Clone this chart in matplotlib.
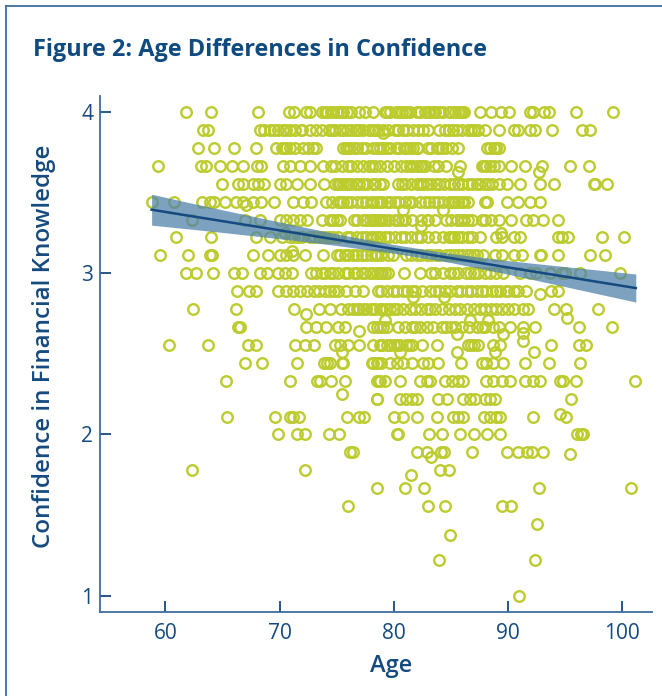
import matplotlib
matplotlib.use('Agg')
import matplotlib.pyplot as plt

row_400 = [61.8, 64.0, 68.1, 70.8, 71.3, 72.3, 72.7, 73.7, 74.2, 74.7, 75.1, 75.4, 75.9, 76.3, 77.0, 77.5, 78.2,
           79.2, 79.7, 80.5, 81.0, 81.4, 82.3, 82.7, 83.2, 83.6, 84.0, 84.8, 85.4, 85.8, 86.2, 87.6, 88.5, 89.4,
           90.1, 91.9, 92.2, 93.2, 93.6, 96.0, 99.2]
row_389 = [63.3, 63.7, 68.3, 68.6, 69.2, 69.9, 70.3, 70.9, 71.4, 71.9, 72.7, 73.7, 74.3, 74.9, 75.3, 75.9, 76.3,
           76.8, 77.3, 78.1, 78.6, 79.1, 80.1, 80.8, 81.7, 82.15, 83.0, 84.5, 85.5, 86.5, 87.4, 88.0, 89.2, 90.5,
           90.9, 91.9, 92.4, 93.9, 96.5, 97.2]
row_378 = [62.9, 64.3, 66.0, 67.9, 69.7, 70.2, 70.6, 71.4, 72.1, 72.5, 73.2, 75.6, 76.0, 76.5, 77.2, 78.2, 78.8,
           79.1, 79.7, 80.5, 81.1, 81.7, 82.15, 83.3, 83.8, 84.2, 85.1, 85.65, 88.4, 89.2]
row_367 = [59.4, 63.1, 63.6, 64.8, 65.8, 66.8, 68.0, 68.4, 70.3, 70.9, 71.8, 72.7, 73.8, 74.9, 76.3, 76.8, 77.3,
           78.4, 78.8, 79.4, 80.0, 81.1, 81.7, 82.3, 82.7, 83.5, 83.9, 84.6, 85.8, 87.7, 88.1, 89.2, 90.3, 91.5,
           93.0, 95.4, 97.1]
row_356 = [65.0, 66.4, 66.8, 67.7, 68.1, 68.6, 70.0, 70.6, 71.5, 72.7, 73.9, 75.1, 75.6, 76.0, 77.3, 78.2, 78.8,
           78.4, 79.1, 80.7, 82.0, 82.6, 83.3, 84.0, 84.9, 85.65, 86.5, 87.3, 88.0, 88.6, 89.2, 89.9, 91.05, 92.8,
           94.0, 97.5, 97.6, 98.7]
row_344 = [58.8, 60.8, 63.2, 63.9, 64.3, 65.2, 66.2, 66.8, 67.7, 68.4, 69.5, 71.2, 72.1, 72.8, 74.1, 75.1, 75.6,
           76.8, 77.6, 78.5, 78.2, 78.8, 79.7, 80.1, 81.3, 82.3, 83.5, 84.3, 85.1, 85.65, 86.5, 88.0, 89.9, 90.9,
           91.9, 92.8]
row_333 = [62.3, 67.0, 68.3, 70.0, 71.2, 71.8, 72.4, 73.7, 74.4, 75.0, 76.5, 77.6, 78.2, 78.8, 78.4, 79.2, 80.1,
           81.0, 81.6, 82.9, 83.6, 84.6, 85.5, 86.2, 87.7, 89.2, 90.3, 91.6, 92.2, 93.1, 94.4]
row_322 = [60.9, 64.0, 67.9, 69.2, 70.2, 70.9, 71.6, 72.7, 73.8, 74.4, 75.1, 75.9, 76.8, 78.2, 78.8, 78.5, 79.2,
           80.1, 81.0, 82.4, 83.6, 84.8, 85.65, 86.5, 87.55, 89.0, 89.45, 90.5, 91.05, 94.4, 94.7, 95.3, 98.2, 100.2]
row_311 = [59.5, 62.0, 63.9, 64.05, 67.7, 69.0, 70.0, 70.6, 71.2, 72.2, 73.8, 75.0, 75.7, 76.8, 77.6, 78.5, 78.4,
           79.5, 81.1, 82.0, 82.9, 84.6, 85.65, 86.7, 87.8, 88.9, 89.45, 90.5, 91.2, 92.8, 92.9, 94.35, 97.2, 98.5]
row_300 = [61.8, 62.65, 64.2, 66.0, 66.7, 68.3, 68.9, 69.9, 70.5, 71.1, 72.8, 73.7, 74.4, 75.1, 76.5, 77.5, 78.2,
           78.8, 78.5, 79.2, 80.9, 82.3, 83.3, 83.6, 84.9, 85.65, 86.7, 88.0, 89.0, 89.6, 91.05, 91.9, 92.5, 93.7,
           94.7, 95.0, 96.3, 99.8]
row_289 = [66.3, 67.3, 67.9, 69.9, 70.6, 71.2, 71.8, 73.0, 73.5, 74.4, 75.1, 76.6, 77.3, 78.9, 79.4, 80.25, 80.8,
           81.6, 83.2, 84.5, 85.5, 86.4, 87.7, 89.3, 90.5, 91.6, 93.8, 94.4]
row_278 = [62.45, 66.2, 71.3, 73.5, 74.4, 75.4, 76.0, 77.0, 77.6, 78.2, 78.8, 79.7, 80.8, 81.9, 82.9, 83.6, 84.8,
           85.8, 87.0, 88.0, 89.0, 90.0, 91.35, 91.8, 94.0, 95.1, 97.85]
row_267 = [66.4, 66.5, 72.3, 73.2, 74.1, 75.1, 75.7, 78.2, 78.8, 79.1, 80.4, 81.6, 82.3, 82.9, 84.2, 85.4, 85.95,
           87.3, 88.0, 89.2, 90.2, 91.35, 92.4, 96.2, 99.1]
row_256 = [60.3, 63.7, 67.2, 67.9, 71.4, 72.2, 73.0, 74.9, 75.3, 76.0, 77.0, 78.2, 78.8, 78.9, 79.4, 80.0, 80.55,
           81.1, 81.6, 82.45, 83.75, 86.5, 87.0, 87.4, 88.7, 89.3, 93.8, 96.25, 96.8]
row_244 = [67.0, 68.5, 71.5, 73.9, 74.2, 74.4, 75.5, 75.6, 78.2, 78.65, 78.07, 78.5, 78.9, 79.7, 80.25, 80.8, 81.6,
           82.6, 83.0, 83.9, 85.85, 87.7, 88.1, 88.7, 89.6, 91.5, 93.6, 96.35]
row_233 = [65.3, 70.9, 73.25, 73.55, 74.5, 75.7, 78.5, 78.8, 78.65, 79.2, 80.55, 82.3, 82.9, 83.2, 84.5, 85.1,
           85.65, 86.1, 88.1, 88.7, 89.45, 90.2, 91.5, 92.2, 92.8, 94.55, 94.85, 96.0, 101.15]
row_222 = [78.5, 78.56, 80.55, 81.1, 81.6, 82.0, 83.9, 84.7, 86.1, 86.7, 87.1, 88.0, 88.4, 88.9, 95.55]
row_211 = [65.4, 69.6, 70.9, 71.2, 71.7, 75.9, 77.0, 77.4, 80.0, 80.8, 82.05, 83.75, 85.2, 85.65, 86.1, 87.9, 88.4,
           89.0, 89.3, 92.2, 95.1]
row_200 = [69.9, 71.55, 72.2, 74.3, 75.2, 80.25, 80.4, 83.05, 84.2, 85.8, 87.0, 88.2, 89.3, 96.05, 96.4, 96.6]
row_189 = [76.2, 76.4, 82.0, 82.9, 84.1, 84.4, 86.9, 89.9, 90.9, 91.65, 92.1, 93.1]
row_178 = [62.3, 72.2, 84.05, 84.8]
row_167 = [78.5, 81.0, 82.65, 92.7, 100.75]
row_156 = [76.0, 83.0, 84.45, 89.5, 90.3]
row_144 = [92.55]
row_122 = [84.0, 92.4]
row_100 = [91.0]

levels = [4.0, 3.889, 3.778, 3.667, 3.556, 3.444, 3.333, 3.222, 3.111, 3.0, 2.889, 2.778, 2.667, 2.556, 2.444,
          2.333, 2.222, 2.111, 2.0, 1.889, 1.778, 1.667, 1.556, 1.444, 1.222, 1.0]
rows = [row_400, row_389, row_378, row_367, row_356, row_344, row_333, row_322, row_311, row_300, row_289, row_278,
        row_267, row_256, row_244, row_233, row_222, row_211, row_200, row_189, row_178, row_167, row_156, row_144,
        row_122, row_100]

# extra ages inside the solid clumps, where single circles cannot be told apart
clump_400 = [74.0, 74.5, 75.0, 75.6, 79.4, 80.2, 80.7, 81.2, 82.0, 83.0, 83.4, 84.3, 85.0, 85.6, 86.0]
clump_389 = [69.5, 70.6, 72.0, 73.2, 74.6, 75.6, 76.6, 77.0, 77.8, 78.4, 79.5, 80.4, 81.2, 82.6, 84.0, 84.8, 85.2,
             86.0, 86.8, 87.0]
clump_378 = [70.4, 70.9, 72.9, 75.8, 76.2, 76.8, 77.6, 78.5, 79.4, 80.2, 80.9, 81.4, 82.0, 83.0, 84.0, 84.6, 88.2,
             88.8, 89.0]
clump_367 = [74.5, 75.5, 76.0, 77.8, 78.1, 80.6, 81.4, 82.0, 82.5, 87.9, 88.4, 88.8]
clump_356 = [74.9, 75.3, 75.8, 76.3, 76.7, 77.0, 77.7, 80.4, 81.0, 81.5, 82.3, 82.9, 83.7, 84.4, 85.3, 86.0, 86.9,
             87.6, 88.3]
clump_344 = [74.6, 75.3, 75.9, 76.3, 77.2, 78.0, 79.0, 79.4, 80.5, 81.0, 81.6, 82.7, 83.1, 83.9, 84.8, 85.4, 86.0,
             86.2, 88.2]
clump_333 = [70.6, 74.7, 75.3, 76.8, 77.3, 77.9, 78.6, 79.0, 79.6, 80.4, 80.7, 82.4, 83.0, 85.0, 85.9, 86.5, 86.9,
             88.0, 88.5]
clump_322 = [71.3, 72.0, 73.0, 73.5, 74.1, 74.7, 76.2, 77.2, 77.6, 78.0, 79.6, 80.6, 81.5, 82.0, 83.0, 84.3, 85.0,
             85.3, 86.0, 86.9]
clump_311 = [75.3, 76.0, 76.4, 77.2, 78.0, 78.9, 79.9, 81.5, 82.4, 83.3, 83.7, 84.0, 84.9, 85.3, 86.0, 86.4, 87.0,
             87.3]
clump_300 = [73.2, 74.0, 74.7, 75.7, 76.0, 76.8, 77.2, 77.9, 79.0, 79.5, 84.3, 85.3, 86.3, 87.0, 87.4, 88.4]
clump_289 = [72.4, 74.0, 74.8, 75.8, 78.6, 79.9, 81.2, 81.9, 82.5, 83.6, 84.0, 84.9, 85.9, 86.8, 87.3, 88.1, 88.6,
             89.0, 89.8, 90.0, 90.9]
clump_278 = [76.4, 76.8, 77.3, 78.0, 78.4, 79.0, 79.3, 80.0, 80.3, 81.4, 82.4, 83.2, 84.2, 85.4, 86.4, 87.6, 88.5,
             89.5, 90.5]
clump_267 = [78.5, 79.4, 81.0, 81.9, 83.4, 84.6, 85.0, 86.6, 87.7, 88.7]
clump_256 = [79.0, 79.7, 80.3, 81.3, 86.8]
clumps = [clump_400, clump_389, clump_378, clump_367, clump_356, clump_344, clump_333, clump_322, clump_311,
          clump_300, clump_289, clump_278, clump_267, clump_256]

# people whose score falls between the rows
off_age = [79.1, 85.6, 92.7, 67.1, 80.8, 84.3, 82.4, 89.36, 70.5, 71.1, 92.8, 81.65, 84.4, 72.3, 95.2, 77.0, 85.5,
           89.55, 91.35, 86.7, 88.3, 79.2, 75.5, 91.35, 85.5, 88.9, 80.55, 92.3, 75.5, 94.6, 83.3, 95.4, 81.5, 84.9]
off_conf = [3.87, 3.63, 3.63, 3.42, 3.39, 3.39, 3.29, 3.25, 3.25, 3.14, 2.87, 2.85, 2.85, 2.75, 2.72, 2.64, 2.62,
            2.62, 2.63, 2.71, 2.71, 2.71, 2.51, 2.58, 2.51, 2.51, 2.51, 2.51, 2.25, 2.13, 1.86, 1.88, 1.75, 1.375]

# fitted line and its confidence band
fit_age = [58.8, 62, 65, 70, 75, 80, 85, 90, 95, 101.2]
fit_conf = [3.394, 3.357, 3.323, 3.266, 3.208, 3.151, 3.094, 3.036, 2.979, 2.908]
fit_low = [3.298, 3.275, 3.253, 3.214, 3.172, 3.124, 3.066, 2.994, 2.917, 2.821]
fit_high = [3.490, 3.439, 3.393, 3.318, 3.244, 3.178, 3.122, 3.078, 3.041, 2.995]

x_ticks = [60, 70, 80, 90, 100]
y_ticks = [1, 2, 3, 4]

NAVY = '#144a7f'
AXIS_BLUE = '#3f6d9e'
LIME = '#bccb2e'
W, H = 662, 696

plt.rcParams['font.family'] = ['Open Sans', 'DejaVu Sans']

fig = plt.figure(figsize=(W / 100, H / 100), dpi=100)

# box around the figure: only top and left edges fall inside the picture
fig.add_artist(plt.Line2D([6 / W, 6 / W], [0, 1 - 6 / H], color=AXIS_BLUE, lw=1.3))
fig.add_artist(plt.Line2D([6 / W, 1], [1 - 6 / H, 1 - 6 / H], color=AXIS_BLUE, lw=1.3))

ax = fig.add_axes([100 / W, 1 - 612 / H, 552 / W, 516 / H])
ax.set_xlim(54.28, 102.62)
ax.set_ylim(0.899, 4.099)

for level, ages in zip(levels, rows):
    ax.plot(ages, [level] * len(ages), 'o', ms=7.6, mfc='none', mec=LIME, mew=1.7, zorder=2, clip_on=False)
for level, ages in zip(levels, clumps):
    ax.plot(ages, [level] * len(ages), 'o', ms=7.6, mfc='none', mec=LIME, mew=1.7, zorder=2, clip_on=False)
ax.plot(off_age, off_conf, 'o', ms=7.6, mfc='none', mec=LIME, mew=1.7, zorder=2, clip_on=False)

ax.fill_between(fit_age, fit_low, fit_high, color='#4f82ab', alpha=0.74, lw=0, zorder=3)
ax.plot(fit_age, fit_conf, color=NAVY, lw=1.8, zorder=4)

ax.spines['top'].set_visible(False)
ax.spines['right'].set_visible(False)
ax.spines['left'].set_color(AXIS_BLUE)
ax.spines['bottom'].set_color(AXIS_BLUE)
ax.spines['left'].set_linewidth(1.3)
ax.spines['bottom'].set_linewidth(1.3)

ax.set_xticks(x_ticks)
ax.set_yticks(y_ticks)
ax.tick_params(axis='both', direction='in', length=8, width=1.3, color=NAVY, labelcolor=NAVY, labelsize=15)
ax.tick_params(axis='x', pad=8)
ax.tick_params(axis='y', pad=5)

ax.set_xlabel('Age', fontsize=17, fontweight='semibold', color=NAVY, labelpad=7)
ax.xaxis.set_label_coords(0.527, -0.082)
ax.set_ylabel('Confidence in Financial Knowledge', fontsize=17.4, fontweight='semibold', color=NAVY)
ax.yaxis.set_label_coords(-0.08, 0.515)

fig.text(33 / W, 1 - 56 / H, 'Figure 2: Age Differences in Confidence', fontsize=16.9, fontweight='bold',
         color='#0f4a80', ha='left', va='baseline')

fig.savefig('out.png', dpi=100)
